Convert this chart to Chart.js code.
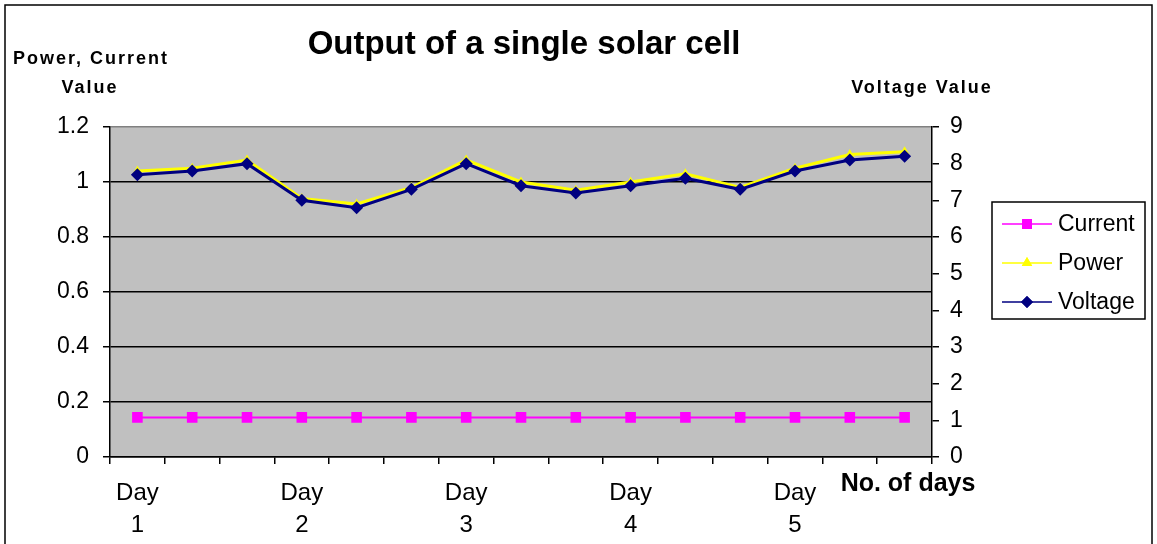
<!DOCTYPE html>
<html>
<head>
<meta charset="utf-8">
<script src="https://cdn.jsdelivr.net/npm/chart.js@4.4.1/dist/chart.umd.min.js"></script>
<style>
  html, body { margin: 0; padding: 0; background: #fff; }
  #idCanvas { width: 1157px; height: 544px; position: relative; }
</style>
</head>
<body>
<div id="idCanvas"><canvas id="lienzo"></canvas></div>
<script>
// Datos
const dias = ['Day 1', '', '', 'Day 2', '', '', 'Day 3', '', '', 'Day 4', '', '', 'Day 5', '', ''];
const corriente = [0.144, 0.144, 0.144, 0.144, 0.144, 0.144, 0.144, 0.144, 0.144, 0.144, 0.144, 0.144, 0.144, 0.144, 0.144];
const potencia = [1.04, 1.05, 1.08, 0.94, 0.92, 0.98, 1.08, 1.0, 0.97, 1.0, 1.03, 0.98, 1.05, 1.1, 1.11];
const voltaje = [7.7, 7.8, 8.0, 7.0, 6.8, 7.3, 8.0, 7.4, 7.2, 7.4, 7.6, 7.3, 7.8, 8.1, 8.2];

const fuente = "'Liberation Sans', Arial, sans-serif";

// Fondo gris, marco y textos sueltos
const extras = {
  id: 'extras',
  beforeDraw(chart) {
    const c = chart.ctx, a = chart.chartArea;
    c.save();
    c.fillStyle = '#fff';
    c.fillRect(0, 0, chart.width, chart.height);
    c.fillStyle = '#C0C0C0';
    c.fillRect(a.left, a.top, a.right - a.left, a.bottom - a.top);
    c.strokeStyle = '#000';
    c.lineWidth = 1.5;
    c.strokeRect(5, 5, chart.width - 10, chart.height + 10);
    c.restore();
  },
  afterDraw(chart) {
    const c = chart.ctx;
    c.save();
    c.fillStyle = '#000';
    c.textAlign = 'center';
    c.textBaseline = 'middle';
    c.font = 'bold 33px ' + fuente;
    c.fillText('Output of a single solar cell', 524, 45);
    c.font = 'bold 18px ' + fuente;
    c.letterSpacing = '2px';
    c.fillText('Power, Current', 91, 59);
    c.fillText('Value', 90, 88);
    c.fillText('Voltage Value', 922, 88);
    c.letterSpacing = '0px';
    c.font = 'bold 25px ' + fuente;
    c.fillText('No. of days', 908, 484);

    // leyenda
    c.lineWidth = 1.5;
    c.strokeStyle = '#000';
    c.strokeRect(992, 202, 153, 117);
    const items = [
      { t: 'Current', col: '#FF00FF', m: 'rect' },
      { t: 'Power', col: '#FFFF00', m: 'triangle' },
      { t: 'Voltage', col: '#000080', m: 'rectRot' }
    ];
    c.font = '23px ' + fuente;
    c.textAlign = 'left';
    items.forEach((it, i) => {
      const y = 224 + i * 39;
      c.strokeStyle = it.col;
      c.lineWidth = 1.5;
      c.beginPath();
      c.moveTo(1002, y);
      c.lineTo(1052, y);
      c.stroke();
      c.fillStyle = it.col;
      Chart.helpers.drawPoint(c, { pointStyle: it.m, radius: it.m === 'rect' ? 7 : 6, borderWidth: 0 }, 1027, y);
      c.fill();
      c.fillStyle = '#000';
      c.fillText(it.t, 1058, y + 1);
    });
    c.restore();
  }
};

const ctx = document.getElementById('lienzo').getContext('2d');
const myChart = new Chart(ctx, {
  type: 'line',
  data: {
    labels: dias,
    datasets: [
      {
        label: 'Current', data: corriente, yAxisID: 'y', order: 2,
        borderColor: '#FF00FF', backgroundColor: '#FF00FF', borderWidth: 2,
        pointStyle: 'rect', pointRadius: 7.5, pointBorderWidth: 0, tension: 0
      },
      {
        label: 'Power', data: potencia, yAxisID: 'y', order: 1,
        borderColor: '#FFFF00', backgroundColor: '#FFFF00', borderWidth: 3,
        pointStyle: 'triangle', pointRadius: 5.5, pointBorderWidth: 0, tension: 0
      },
      {
        label: 'Voltage', data: voltaje, yAxisID: 'y1', order: 0,
        borderColor: '#000080', backgroundColor: '#000080', borderWidth: 3,
        pointStyle: 'rectRot', pointRadius: 6.5, pointBorderWidth: 0, tension: 0
      }
    ]
  },
  options: {
    responsive: true,
    maintainAspectRatio: false,
    animation: false,
    devicePixelRatio: 1,
    layout: { padding: { top: 127, left: 0, right: 0, bottom: 0 } },
    plugins: { legend: { display: false }, title: { display: false }, tooltip: { enabled: false } },
    scales: {
      x: {
        offset: true,
        grid: { offset: true, drawOnChartArea: false, drawTicks: true, tickLength: 7, color: '#000', lineWidth: 1.5 },
        border: { color: '#000', width: 1.5 },
        ticks: {
          autoSkip: false, maxRotation: 0, minRotation: 0, color: '#000', padding: 14,
          font: { size: 24, family: fuente, lineHeight: 1.31 },
          callback: function (v) { const l = this.getLabelForValue(v); return l ? l.split(' ') : ''; }
        },
        afterFit: s => { s.height = 87; }
      },
      y: {
        position: 'left', min: 0, max: 1.2,
        grid: {
          color: c => (c.tick && Math.abs(c.tick.value - 1.2) < 1e-6) ? '#808080' : '#000',
          tickColor: '#000', lineWidth: 1.5, tickLength: 7
        },
        border: { color: '#000', width: 1.5 },
        ticks: { stepSize: 0.2, color: '#000', padding: 14, font: { size: 23, family: fuente }, callback: v => +v.toFixed(1) },
        afterFit: s => { s.width = 110; }
      },
      y1: {
        position: 'right', min: 0, max: 9,
        grid: { drawOnChartArea: false, color: '#000', lineWidth: 1.5, tickLength: 7 },
        border: { color: '#000', width: 1.5 },
        ticks: { stepSize: 1, color: '#000', padding: 11, font: { size: 23, family: fuente } },
        afterFit: s => { s.width = 225; }
      }
    }
  },
  plugins: [extras]
});
</script>
</body>
</html>
